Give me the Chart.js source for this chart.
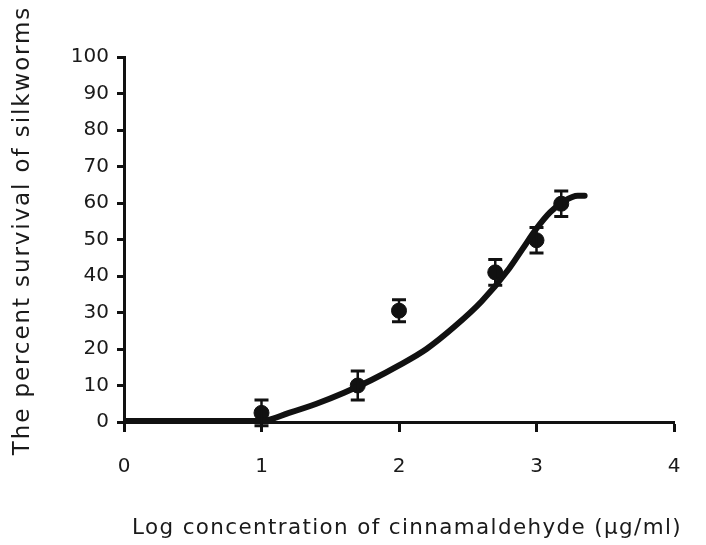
<!DOCTYPE html>
<html>
<head>
<meta charset="utf-8">
<script src="https://cdn.jsdelivr.net/npm/chart.js@4"></script>
<style>
  html, body { margin: 0; padding: 0; background: #fff; }
  #wrap { width: 706px; height: 545px; }
</style>
</head>
<body>
<div id="wrap"><canvas id="grafico" width="706" height="545"></canvas></div>
<script>
// valores
const logConc = [1.0, 1.7, 2.0, 2.7, 3.0, 3.18];
const sobrevivencia = [2.5, 10, 30.5, 41, 49.8, 59.8];
const erro = [3.5, 4, 3, 3.5, 3.5, 3.5];

// curva ajustada
const curvaX = [0, 0.5, 1.0, 1.2, 1.4, 1.6, 1.8, 2.0, 2.2, 2.4, 2.6, 2.8, 2.9, 3.0, 3.1, 3.2, 3.3, 3.35];
const curvaY = [0.3, 0.3, 0.3, 2.5, 5, 8, 11.5, 15.5, 20, 26, 33, 42, 47.5, 53, 57.5, 60.5, 62, 62];

const xTicks = [0, 1, 2, 3, 4];
const yTicks = [0, 10, 20, 30, 40, 50, 60, 70, 80, 90, 100];

const fonte = "'DejaVu Sans', Verdana, sans-serif";

// barras de erro desenhadas pelas escalas
const barrasErro = {
    id: 'barrasErro',
    afterDatasetsDraw(chart) {
        const ctx = chart.ctx;
        const x = chart.scales.x, y = chart.scales.y;
        ctx.save();
        ctx.strokeStyle = '#111';
        for (let i = 0; i < logConc.length; i++) {
            const px = x.getPixelForValue(logConc[i]);
            const top = y.getPixelForValue(sobrevivencia[i] + erro[i]);
            const bot = y.getPixelForValue(sobrevivencia[i] - erro[i]);
            ctx.lineWidth = 2.5;
            ctx.beginPath();
            ctx.moveTo(px, top); ctx.lineTo(px, bot);
            ctx.stroke();
            ctx.lineWidth = 3;
            ctx.beginPath();
            ctx.moveTo(px - 7, top); ctx.lineTo(px + 7, top);
            ctx.moveTo(px - 7, bot); ctx.lineTo(px + 7, bot);
            ctx.stroke();
        }
        ctx.restore();
    }
};

// títulos dos eixos com um pouco de espaço entre letras (fonte do original é larga)
function espacarTitulo(scale, espaco, dx, dy) {
    if (scale._tituloEspacado) return;
    scale._tituloEspacado = true;
    const original = scale.drawTitle;
    scale.drawTitle = function () {
        const c = this.ctx;
        c.save();
        c.letterSpacing = espaco;
        c.translate(dx, dy);
        original.apply(this, arguments);
        c.restore();
    };
}

const titulos = {
    id: 'titulos',
    afterLayout(chart) {
        espacarTitulo(chart.scales.x, '1.4px', 8, 0);
        espacarTitulo(chart.scales.y, '1.9px', 0, -9);
    }
};

const ctx = document.getElementById('grafico').getContext('2d');
const chart = new Chart(ctx, {
    type: 'scatter',
    data: {
        datasets: [{
            label: 'curva',
            data: curvaX.map((v, i) => ({ x: v, y: curvaY[i] })),
            showLine: true,
            borderColor: '#111',
            borderWidth: 6,
            pointRadius: 0,
            cubicInterpolationMode: 'monotone',
            borderCapStyle: 'round'
        }, {
            label: 'dados',
            data: logConc.map((v, i) => ({ x: v, y: sobrevivencia[i] })),
            backgroundColor: '#111',
            borderColor: '#111',
            pointRadius: 7.5
        }]
    },
    options: {
        responsive: false,
        animation: false,
        layout: { padding: { left: 9, right: 32, top: 57, bottom: 4 } },
        plugins: { legend: { display: false }, tooltip: { enabled: false } },
        scales: {
            x: {
                type: 'linear',
                min: 0, max: 4,
                afterBuildTicks: s => { s.ticks = xTicks.map(v => ({ value: v })); },
                afterFit: s => { s.height = 119; },
                grid: { drawOnChartArea: false, tickLength: 10, tickWidth: 3, color: '#111' },
                border: { color: '#111', width: 3 },
                ticks: { color: '#1a1a1a', font: { family: fonte, size: 20 }, padding: 23 },
                title: {
                    display: true,
                    text: 'Log concentration of cinnamaldehyde (µg/ml)',
                    color: '#1a1a1a',
                    font: { family: fonte, size: 22 },
                    padding: { top: 0, bottom: 0 }
                }
            },
            y: {
                type: 'linear',
                min: 0, max: 100,
                afterBuildTicks: s => { s.ticks = yTicks.map(v => ({ value: v })); },
                afterFit: s => { s.width = 115; },
                grid: { drawOnChartArea: false, tickLength: 7, tickWidth: 3, color: '#111' },
                border: { color: '#111', width: 3 },
                ticks: { color: '#1a1a1a', font: { family: fonte, size: 20 }, padding: 8 },
                title: {
                    display: true,
                    text: 'The percent survival of silkworms',
                    color: '#1a1a1a',
                    font: { family: fonte, size: 23 },
                    padding: { top: 0, bottom: 0 }
                }
            }
        }
    },
    plugins: [barrasErro, titulos]
});
chart.draw();
</script>
</body>
</html>
